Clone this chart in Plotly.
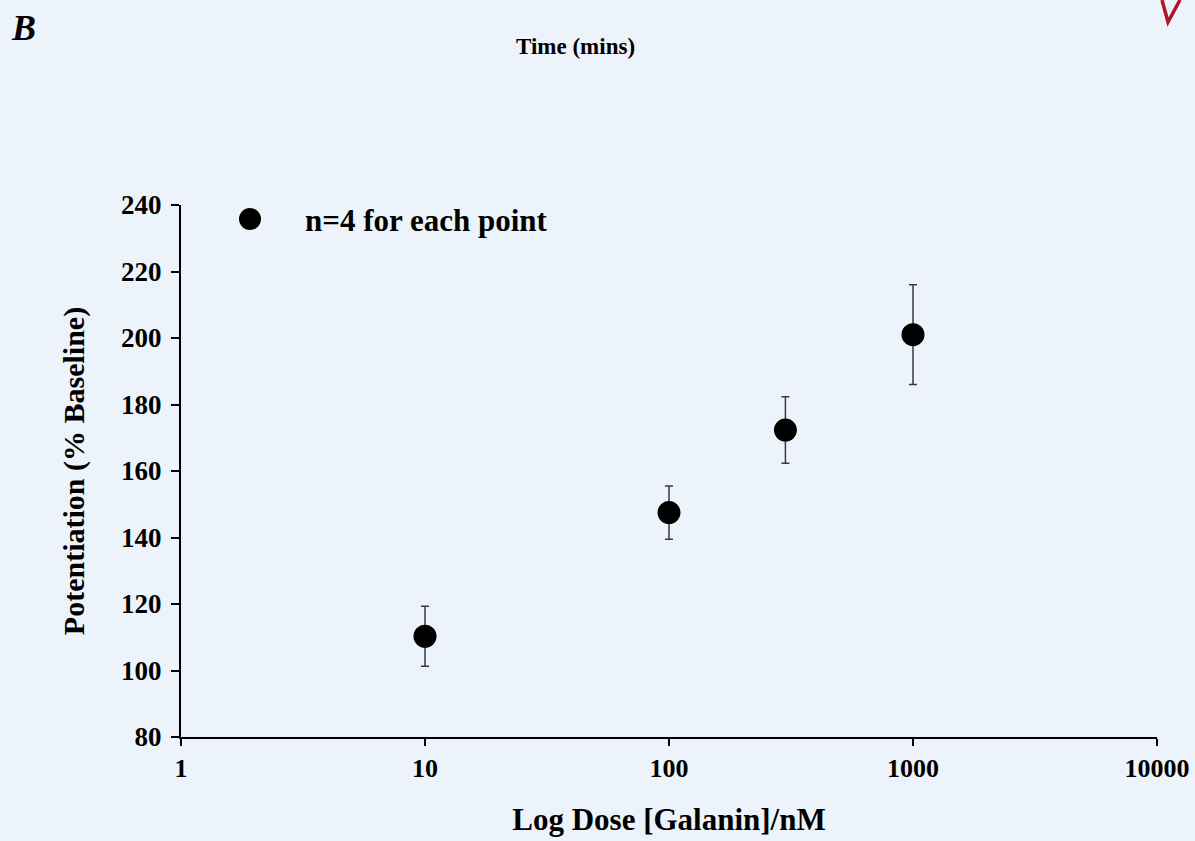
import plotly.graph_objects as go

doses = [10, 100, 300, 1000]
potentiation = [110.3, 147.5, 172.3, 201.0]
sem = [9.0, 8.0, 10.0, 15.0]
x_ticks = [1, 10, 100, 1000, 10000]
y_ticks = [80, 100, 120, 140, 160, 180, 200, 220, 240]
legend_label = "n=4 for each point"

BG = "#edf3fa"
FONT = "Liberation Serif"

W, H = 1195, 841
L, R, T, B = 181, 38, 205, 104
PW, PH = W - L - R, H - T - B


def px(x):
    return (x - L) / PW


def py(y):
    return (H - B - y) / PH


fig = go.Figure()
fig.add_trace(go.Scatter(
    x=doses, y=potentiation, mode="markers",
    name=legend_label, showlegend=False,
    marker=dict(size=23, color="black", symbol="circle"),
    error_y=dict(type="data", array=sem, visible=True, color="#3a3a3a",
                 thickness=1.5, width=4),
))

# legend key (drawn manually so the symbol can be full size)
fig.add_shape(type="circle", xref="paper", yref="paper",
              x0=px(239), x1=px(261), y0=py(230), y1=py(208),
              fillcolor="black", line=dict(width=0))

# red pen mark in the top-right corner
fig.add_shape(type="path", xref="paper", yref="paper",
              path="M {} {} L {} {} L {} {}".format(px(1162), py(0), px(1168), py(22),
                                                     px(1180), py(0)),
              line=dict(color="#b3142c", width=3.5))

fig.update_layout(
    width=W, height=H,
    margin=dict(l=L, r=R, t=T, b=B, autoexpand=False),
    paper_bgcolor=BG, plot_bgcolor=BG,
    font=dict(family=FONT, color="black", size=26),
    showlegend=False,
    xaxis=dict(type="log", range=[0, 4], tickvals=x_ticks,
               ticktext=[str(v) for v in x_ticks],
               automargin=False,
               showgrid=False, zeroline=False,
               showline=True, linecolor="black", linewidth=2,
               ticks="outside", ticklen=7, tickwidth=2, tickcolor="black",
               tickfont=dict(family=FONT, size=26, weight="bold"),
               title=dict(text="Log Dose [Galanin]/nM", standoff=26,
                          font=dict(family=FONT, size=31, weight="bold"))),
    yaxis=dict(range=[80, 240], tickvals=y_ticks,
               automargin=False,
               showgrid=False, zeroline=False,
               showline=True, linecolor="black", linewidth=2,
               ticks="outside", ticklen=8, tickwidth=2, tickcolor="black",
               ticklabelstandoff=4,
               tickfont=dict(family=FONT, size=27, weight="bold"),
               title=dict(text="Potentiation (% Baseline)", standoff=28,
                          font=dict(family=FONT, size=30, weight="bold"))),
    annotations=[
        dict(text="<b><i>B</i></b>", x=px(9), y=py(6), xref="paper", yref="paper",
             xanchor="left", yanchor="top", showarrow=False,
             font=dict(family=FONT, size=36, color="black")),
        dict(text="<b>Time (mins)</b>", x=px(575), y=py(47),
             xref="paper", yref="paper", showarrow=False,
             xanchor="center", yanchor="middle",
             font=dict(family=FONT, size=23, color="black")),
        dict(text="<b>" + legend_label + "</b>", x=px(303), y=py(220),
             xref="paper", yref="paper", showarrow=False,
             xanchor="left", yanchor="middle",
             font=dict(family=FONT, size=31, color="black")),
    ],
)

fig.write_html("out.html")
